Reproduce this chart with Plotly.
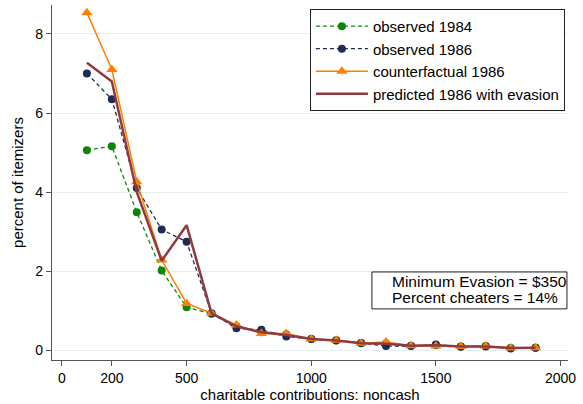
import plotly.graph_objects as go

# Contribution bins (dollars of noncash charitable giving)
contrib = [100, 200, 300, 400, 500, 600, 700, 800, 900, 1000,
           1100, 1200, 1300, 1400, 1500, 1600, 1700, 1800, 1900]

# Percent of itemizers in each bin
observed_1984 = [5.06, 5.16, 3.49, 2.01, 1.08, 0.92, 0.60, 0.45, 0.40, 0.28,
                 0.25, 0.17, 0.17, 0.11, 0.12, 0.09, 0.10, 0.05, 0.06]
observed_1986 = [7.00, 6.35, 4.10, 3.05, 2.74, 0.93, 0.55, 0.51, 0.34, 0.28,
                 0.24, 0.18, 0.10, 0.10, 0.14, 0.08, 0.09, 0.04, 0.06]
counterfactual_1986 = [8.54, 7.10, 4.26, 2.28, 1.18, 0.93, 0.63, 0.42, 0.42, 0.28,
                       0.25, 0.17, 0.20, 0.11, 0.10, 0.09, 0.10, 0.05, 0.06]
predicted_1986 = [7.27, 6.80, 4.00, 2.26, 3.16, 0.93, 0.60, 0.45, 0.38, 0.28,
                  0.24, 0.17, 0.16, 0.11, 0.12, 0.09, 0.09, 0.05, 0.06]

x_ticks = [0, 200, 500, 1000, 1500, 2000]
y_ticks = [0, 2, 4, 6, 8]

note_lines = ["Minimum Evasion = $350", "Percent cheaters = 14%"]

FONT = "Liberation Sans, Arial, Helvetica, sans-serif"
GREEN = "#0a870a"
NAVY = "#1f2b57"
ORANGE = "#ff8000"
MAROON = "#903a40"
DASH = "4px,3px"

fig = go.Figure()
fig.add_trace(go.Scatter(
    x=contrib, y=observed_1984, mode="lines+markers", name="observed 1984",
    line=dict(color=GREEN, width=1.3, dash=DASH),
    marker=dict(symbol="circle", size=8, color=GREEN)))
fig.add_trace(go.Scatter(
    x=contrib, y=observed_1986, mode="lines+markers", name="observed 1986",
    line=dict(color=NAVY, width=1.3, dash=DASH),
    marker=dict(symbol="circle", size=8, color=NAVY)))
fig.add_trace(go.Scatter(
    x=contrib, y=counterfactual_1986, mode="lines+markers", name="counterfactual 1986",
    line=dict(color=ORANGE, width=1.5),
    marker=dict(symbol="triangle-up", size=10, color=ORANGE)))
fig.add_trace(go.Scatter(
    x=contrib, y=predicted_1986, mode="lines", name="predicted 1986 with evasion",
    line=dict(color=MAROON, width=2.5)))

# Boxed note in the lower right: a frame plus one text line per row
fig.add_shape(type="rect", xref="paper", yref="paper",
              x0=0.620, x1=0.998, y0=0.144, y1=0.248,
              line=dict(color="#222", width=1), fillcolor="white", layer="above")
for i, line in enumerate(note_lines):
    fig.add_annotation(
        xref="paper", yref="paper", x=0.655, y=0.220 - i * 0.045,
        xanchor="left", yanchor="middle", text=line, showarrow=False,
        font=dict(size=15.5, color="black"))

fig.update_layout(
    width=583, height=404,
    margin=dict(l=52, r=15, t=5, b=44),
    paper_bgcolor="white", plot_bgcolor="white",
    font=dict(family=FONT, size=14, color="black"),
    showlegend=True,
    legend=dict(
        x=0.994, y=0.989, xanchor="right", yanchor="top",
        bgcolor="white", bordercolor="#222", borderwidth=1,
        font=dict(size=15), itemwidth=52, tracegroupgap=0,
    ),
    xaxis=dict(
        range=[-40, 2030], tickvals=x_ticks, ticktext=[str(v) for v in x_ticks],
        showgrid=False, zeroline=False,
        showline=True, linecolor="#555", linewidth=1.3,
        ticks="outside", ticklen=5, tickcolor="#555",
        tickfont=dict(size=14),
        title=dict(text="charitable contributions: noncash", font=dict(size=15), standoff=2),
    ),
    yaxis=dict(
        range=[-0.253, 8.734], tickvals=y_ticks, ticktext=[str(v) for v in y_ticks],
        showgrid=True, gridcolor="#e6eff1", gridwidth=1, zeroline=False,
        showline=True, linecolor="#555", linewidth=1.3,
        ticks="outside", ticklen=5, tickcolor="#555",
        tickfont=dict(size=14),
        title=dict(text="percent of itemizers", font=dict(size=15), standoff=8),
    ),
)

fig.write_html("out.html")
